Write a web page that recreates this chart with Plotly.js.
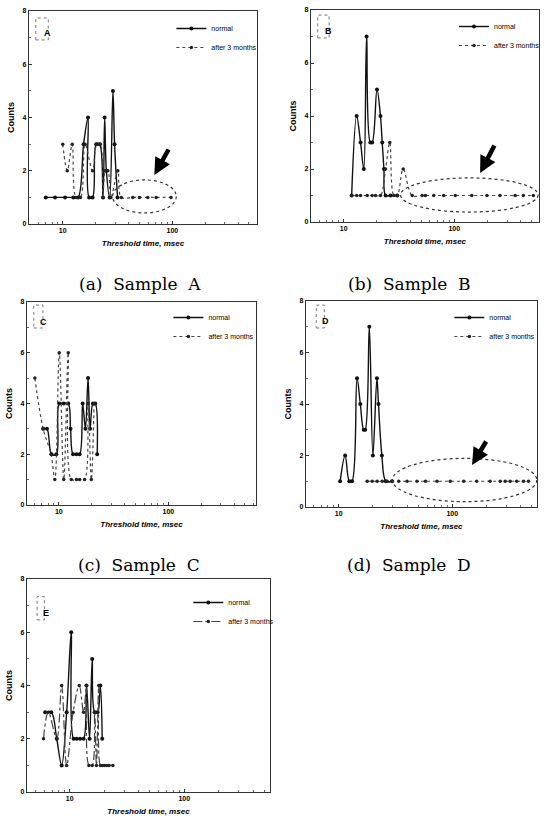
<!DOCTYPE html>
<html>
<head>
<meta charset="utf-8">
<script src="https://cdn.plot.ly/plotly-3.0.1.min.js"></script>
<style>html,body{margin:0;padding:0;background:#fff}#chart{width:545px;height:827px}</style>
</head>
<body>
<div id="chart"></div>
<script>
// ---- data ----
const seriesNames = ["normal", "after 3 months"];
const xTickVals = [10, 100];
const xTickText = ["10", "100"];
const yTickVals = [0, 2, 4, 6, 8];
const panelLetters = ["A", "B", "C", "D", "E"];
const captions = ["(a)  Sample  A", "(b)  Sample  B", "(c)  Sample  C", "(d)  Sample  D"];

const A_normal_x = [7.0, 8.5, 10.5, 12.5, 13.8, 15.5, 17.0, 17.4, 18.7, 20.2, 21.7, 23.3, 24.1, 25.0, 26.8, 28.7, 29.7, 31.6];
const A_normal_y = [1, 1, 1, 1, 1, 3, 4, 1, 1, 3, 3, 1, 4, 2, 1, 5, 3, 1];
const A_after_x = [10.0, 11.0, 12.2, 13.2, 14.5, 16.0, 18.7, 20.5, 22.0, 23.3, 24.5, 25.8, 27.5, 31.8, 34.2, 43.5, 50.1, 59.7, 71.1, 97.3];
const A_after_y = [3, 2, 3, 1, 1, 3, 2, 3, 3, 1, 2, 2, 1, 2, 1, 1, 1, 1, 1, 1];

const B_normal_x = [11.8, 13.1, 14.2, 15.2, 16.1, 17.4, 18.1, 20.0, 21.5, 22.3, 23.1, 23.9, 26.5, 30.5];
const B_normal_y = [1, 4, 3, 2, 7, 3, 3, 5, 4, 3, 2, 1, 1, 1];
const B_after_x = [11.8, 13.1, 14.2, 16.3, 18.1, 19.4, 21.5, 23.9, 26.1, 28.4, 30.5, 34.5, 41.6, 51.2, 54.8, 65.2, 80.2, 102, 144, 197, 259, 355, 421, 518];
const B_after_y = [1, 1, 1, 1, 1, 1, 1, 2, 3, 1, 1, 2, 1, 1, 1, 1, 1, 1, 1, 1, 1, 1, 1, 1];

const C_normal_x = [7.2, 7.8, 8.6, 9.5, 10.1, 11.1, 12.2, 12.8, 13.5, 14.5, 15.5, 16.5, 17.5, 18.5, 19.3, 20.5, 21.5, 22.4];
const C_normal_y = [3, 3, 2, 2, 4, 4, 4, 3, 2, 2, 2, 4, 3, 5, 3, 4, 4, 2];
const C_after_x = [6.05, 7.2, 8.5, 9.2, 10.1, 11.1, 12.2, 13.0, 14.5, 15.5, 17.2, 18.5, 19.8, 21.0];
const C_after_y = [5, 3, 2, 1, 6, 1, 6, 1, 1, 1, 1, 4, 1, 4];

const D_normal_x = [10.3, 11.4, 12.4, 13.1, 14.5, 15.5, 16.6, 17.1, 18.6, 20.0, 21.7, 22.4, 24.0, 26.0, 29.5];
const D_normal_y = [1, 2, 1, 1, 5, 4, 3, 3, 7, 2, 5, 4, 2, 1, 1];
const D_after_x = [17.8, 19.7, 21.8, 24.2, 26.7, 29.6, 33.8, 40, 49, 58, 73.4, 96, 126, 164, 215, 264, 292, 323, 369, 423, 468];
const D_after_y = [1, 1, 1, 1, 1, 1, 1, 1, 1, 1, 1, 1, 1, 1, 1, 1, 1, 1, 1, 1, 1];

const E_normal_x = [6.1, 6.9, 7.7, 8.5, 9.4, 10.3, 10.8, 11.5, 12.3, 13.2, 14.0, 14.9, 15.7, 16.5, 17.5, 18.5, 19.2];
const E_normal_y = [3, 3, 2, 1, 3, 6, 2, 2, 2, 2, 4, 2, 5, 3, 3, 4, 2];
const E_after_x = [5.9, 6.5, 7.7, 8.5, 9.4, 10.7, 12.1, 13.2, 14.0, 14.7, 15.7, 16.5, 17.1, 17.9, 18.5, 19.2, 20.0, 21.0, 22.0, 23.8];
const E_after_y = [2, 3, 2, 4, 1, 3, 4, 3, 4, 1, 1, 3, 1, 4, 1, 1, 1, 1, 1, 1];

// ---- layout config ----
const W = 545, H = 827;
const FONT = "Liberation Sans, Arial, sans-serif";
const panels = [
  {nx: A_normal_x, ny: A_normal_y, ax: A_after_x, ay: A_after_y, px: [29, 258], py: [11, 224], xr: [0.691, 2.773], afterDash: "dot",
   leg: [172, 14], box: [0.030, 0.085, 0.864, 0.967], lab: [0.057, 0.93],
   ell: [0.367, 0.646, 0.052, 0.207], arrow: [0.55, 0.23, 15, -27]},
  {nx: B_normal_x, ny: B_normal_y, ax: B_after_x, ay: B_after_y, px: [312, 541], py: [10, 222], xr: [0.703, 2.766], afterDash: "dot",
   leg: [456, 12], box: [0.030, 0.080, 0.868, 0.976], lab: [0.055, 0.935],
   ell: [0.393, 0.996, 0.047, 0.208], arrow: [0.742, 0.231, 15, -29]},
  {nx: C_normal_x, ny: C_normal_y, ax: C_after_x, ay: C_after_y, px: [27, 257], py: [302, 505], xr: [0.709, 2.80], afterDash: "dot",
   leg: [169, 303], box: [0.030, 0.070, 0.872, 0.985], lab: [0.050, 0.935]},
  {nx: D_normal_x, ny: D_normal_y, ax: D_after_x, ay: D_after_y, px: [307, 539], py: [301, 507], xr: [0.711, 2.746], afterDash: "dot",
   leg: [451, 303], box: [0.045, 0.080, 0.869, 0.980], lab: [0.062, 0.935],
   ell: [0.374, 0.999, 0.026, 0.236], arrow: [0.719, 0.204, 15, -25]},
  {nx: E_normal_x, ny: E_normal_y, ax: E_after_x, ay: E_after_y, px: [27, 271], py: [579, 792], xr: [0.626, 2.748], afterDash: "dashdot",
   leg: [189, 588], box: [0.042, 0.072, 0.808, 0.917], lab: [0.057, 0.875]}
];
const captionPos = [[141, 284], [411, 284], [140, 565], [411, 565]];

const data = [];
const layout = {
  width: W, height: H,
  margin: {l: 0, r: 0, t: 0, b: 0},
  paper_bgcolor: "#fff", plot_bgcolor: "#fff",
  font: {family: FONT, color: "#000"},
  showlegend: true,
  shapes: [], annotations: []
};

panels.forEach((p, i) => {
  const n = i === 0 ? "" : String(i + 1);
  const xa = "x" + n, ya = "y" + n, lg = "legend" + n;
  data.push({
    type: "scatter", mode: "lines+markers", name: seriesNames[0],
    x: p.nx, y: p.ny, xaxis: xa, yaxis: ya, legend: lg,
    line: {color: "#111", width: 1.4, shape: "spline", smoothing: 1.0},
    marker: {symbol: "circle", size: 4, color: "#111"}
  });
  data.push({
    type: "scatter", mode: "lines+markers", name: seriesNames[1],
    x: p.ax, y: p.ay, xaxis: xa, yaxis: ya, legend: lg,
    line: {color: "#444", width: 1.2, dash: p.afterDash, shape: "spline", smoothing: 1.0},
    marker: {symbol: "circle", size: 3.5, color: "#222"}
  });
  const xdom = [p.px[0] / W, p.px[1] / W];
  const ydom = [1 - p.py[1] / H, 1 - p.py[0] / H];
  layout["xaxis" + n] = {
    type: "log", domain: xdom, range: p.xr, anchor: ya,
    tickvals: xTickVals, ticktext: xTickText,
    tickfont: {size: 7, family: FONT, weight: "bold", color: "#000"},
    ticks: "inside", ticklen: 3, tickcolor: "#333",
    minor: {ticks: "inside", ticklen: 2, dtick: "D1", tickcolor: "#666", showgrid: false},
    showline: true, mirror: true, linecolor: "#333", linewidth: 1,
    showgrid: false, zeroline: false,
    title: {text: "Threshold time, msec", standoff: 6,
            font: {size: 8, family: FONT, weight: "bold", style: "italic", color: "#000"}}
  };
  layout["yaxis" + n] = {
    domain: ydom, range: [0, 8], anchor: xa,
    tickvals: yTickVals,
    tickfont: {size: 7, family: FONT, weight: "bold", color: "#000"},
    ticks: "inside", ticklen: 3, tickcolor: "#333",
    minor: {ticks: "inside", ticklen: 2, dtick: 1, tickcolor: "#666", showgrid: false},
    showline: true, mirror: true, linecolor: "#333", linewidth: 1,
    showgrid: false, zeroline: false,
    title: {text: "Counts", standoff: 6, font: {size: 9, family: FONT, weight: "bold", color: "#000"}}
  };
  layout[lg] = {
    x: p.leg[0] / W, y: 1 - p.leg[1] / H, xanchor: "left", yanchor: "top",
    bgcolor: "rgba(0,0,0,0)", borderwidth: 0,
    font: {size: 7, family: FONT, color: "#000"},
    itemwidth: 30, tracegroupgap: 0
  };
  // panel letter box
  layout.shapes.push({
    type: "rect", xref: xa + " domain", yref: ya + " domain",
    x0: p.box[0], x1: p.box[1], y0: p.box[2], y1: p.box[3],
    line: {color: "#777", width: 1, dash: "dot"}
  });
  layout.annotations.push({
    xref: xa + " domain", yref: ya + " domain", x: p.lab[0], y: p.lab[1],
    text: panelLetters[i], showarrow: false,
    font: {size: 9, family: FONT, weight: "bold", color: "#000"}
  });
  if (p.ell) {
    layout.shapes.push({
      type: "circle", xref: xa + " domain", yref: ya + " domain",
      x0: p.ell[0], x1: p.ell[1], y0: p.ell[2], y1: p.ell[3],
      line: {color: "#333", width: 1.2, dash: "dot"}
    });
    layout.annotations.push({
      xref: xa + " domain", yref: ya + " domain", x: p.arrow[0], y: p.arrow[1],
      ax: p.arrow[2], ay: p.arrow[3], text: "", showarrow: true,
      arrowhead: 2, arrowsize: 0.75, arrowwidth: 4.5, arrowcolor: "#000"
    });
  }
});

captions.forEach((c, i) => {
  layout.annotations.push({
    xref: "paper", yref: "paper", x: captionPos[i][0] / W, y: 1 - captionPos[i][1] / H,
    xanchor: "center", yanchor: "middle", text: c, showarrow: false,
    font: {size: 17, family: "DejaVu Serif, serif", color: "#000"}
  });
});

Plotly.newPlot("chart", data, layout, {displayModeBar: false, staticPlot: true});
</script>
</body>
</html>
